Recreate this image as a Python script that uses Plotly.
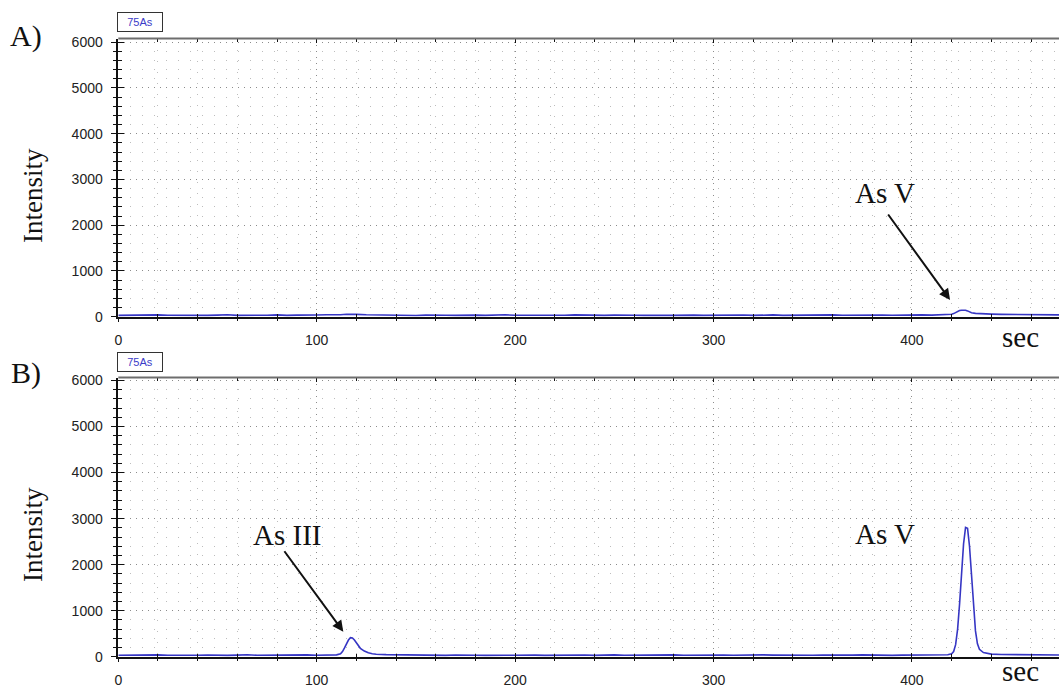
import plotly.graph_objects as go

# ---------------- data ----------------
# Panel A (sample) : retention time (sec) and intensity
time_a = [0, 5, 10, 15, 20, 25, 30, 35, 40, 45, 50, 55, 60, 65, 70, 75, 80, 85, 90, 95, 100, 105, 110,
          112, 115, 117,
          120, 125, 130, 135, 140, 145, 150, 155, 160, 165, 170, 175, 180, 185, 190, 195, 200, 205, 210, 215,
          220, 225, 230, 235, 240, 245, 250, 255, 260, 265, 270, 275, 280, 285, 290, 295, 300, 305, 310, 315,
          320, 325, 330, 335, 340, 345, 350, 355, 360, 365, 370, 375, 380, 385, 390, 395, 400, 405, 410, 415,
          418, 420, 421, 422, 423, 424, 425, 426, 427, 428, 429, 430, 432, 435,
          440, 445, 450, 455, 460, 465, 470, 475]
intensity_a = [30, 36, 28, 34, 40, 31, 27, 38, 33, 29, 35, 41, 30, 26, 37, 32, 39, 28, 34, 30, 36, 42, 38,
               44, 52, 56,
               50, 42, 36, 30, 38, 33, 27, 35, 40, 31, 29, 37, 34, 28, 36, 41, 32, 30, 38, 35,
               27, 33, 39, 31, 36, 29, 34, 40, 32, 28, 37, 33, 30, 38, 35, 29, 34, 41, 31, 36,
               28, 35, 39, 30, 33, 37, 29, 34, 40, 32, 36, 28, 35, 38, 31, 36, 33, 39, 34, 37,
               42, 52, 68, 92, 118, 134, 142, 146, 141, 127, 108, 88, 72, 62,
               56, 50, 46, 42, 38, 41, 36, 39]

# Panel B (spiked sample)
time_b = [0, 5, 10, 15, 20, 25, 30, 35, 40, 45, 50, 55, 60, 65, 70, 75, 80, 85, 90, 95, 100, 105,
          108, 110, 112, 113, 114, 115, 116, 117, 118, 119, 120, 121, 122, 124, 126, 128, 130,
          135, 140, 145, 150, 155, 160, 165, 170, 175, 180, 185, 190, 195, 200, 205, 210, 215, 220, 225,
          230, 235, 240, 245, 250, 255, 260, 265, 270, 275, 280, 285, 290, 295, 300, 305, 310, 315, 320,
          325, 330, 335, 340, 345, 350, 355, 360, 365, 370, 375, 380, 385, 390, 395, 400, 405, 410, 415,
          418, 420, 421, 422, 423, 424, 425, 426, 427, 428, 429, 430, 431, 432, 433, 434, 436, 438,
          440, 445, 450, 455, 460, 465, 470, 475]
intensity_b = [32, 37, 29, 35, 40, 30, 27, 36, 33, 38, 31, 28, 35, 41, 30, 34, 37, 29, 33, 39, 31, 35,
               36, 40, 62, 112, 190, 282, 362, 414, 408, 362, 292, 232, 182, 122, 84, 64, 54,
               46, 42, 36, 31, 38, 34, 29, 36, 40, 32, 28, 37, 33, 30, 38, 35, 29, 34, 40,
               31, 36, 28, 35, 39, 30, 33, 37, 29, 34, 40, 32, 36, 28, 35, 38, 31, 36, 33,
               39, 34, 29, 37, 32, 30, 38, 35, 29, 34, 40, 31, 36, 28, 35, 39, 32, 36, 38,
               42, 62, 112, 262, 600, 1150, 1850, 2450, 2810, 2790, 2400, 1760, 1060, 560, 280, 160, 90, 66,
               56, 48, 44, 40, 36, 39, 34, 37]

# ---------------- layout constants ----------------
W, H = 1059, 689
X_RANGE = [0, 474.1]
X_DOM = [118.3 / W, 1.0]
A_DOM = [1 - 316.7 / H, 1 - 38.5 / H]
B_DOM = [1 - 656.7 / H, 1 - 377.5 / H]
A_YRANGE = [0, 6081]
B_YRANGE = [0, 6065]

LINE_COLOR = "#3636c4"
TICK_FONT = dict(family="Liberation Sans, Arial, sans-serif", size=14, color="#222222")
SERIF = "Liberation Serif, Times New Roman, serif"

fig = go.Figure()
fig.add_trace(go.Scatter(x=time_a, y=intensity_a, mode="lines", xaxis="x", yaxis="y",
                         line=dict(color=LINE_COLOR, width=1.6), showlegend=False))
fig.add_trace(go.Scatter(x=time_b, y=intensity_b, mode="lines", xaxis="x2", yaxis="y2",
                         line=dict(color=LINE_COLOR, width=1.6), showlegend=False))
# empty traces to register overlay axes
fig.add_trace(go.Scatter(x=[None], y=[None], xaxis="x3", yaxis="y3", showlegend=False, hoverinfo="skip"))
fig.add_trace(go.Scatter(x=[None], y=[None], xaxis="x4", yaxis="y4", showlegend=False, hoverinfo="skip"))


def main_x(anchor, show_labels=True):
    return dict(domain=X_DOM, anchor=anchor, range=X_RANGE, dtick=100, tick0=0, automargin=False,
                showline=True, linecolor="#111111", linewidth=1.5,
                ticks="outside", ticklen=4, tickwidth=1.3, tickcolor="#111111",
                showticklabels=show_labels, tickfont=TICK_FONT, ticklabelstandoff=6,
                showgrid=True, gridcolor="#8c8c8c", gridwidth=1, griddash="1px,5px",
                zeroline=False,
                minor=dict(dtick=20, tick0=0, ticks="outside", ticklen=3, tickwidth=1.1, tickcolor="#111111",
                           showgrid=True, gridcolor="#bdbdbd", gridwidth=1, griddash="1px,10px"))


def main_y(anchor, dom, rng):
    return dict(domain=dom, anchor=anchor, range=rng, dtick=1000, tick0=0, automargin=False,
                showline=True, linecolor="#111111", linewidth=1.5,
                ticks="outside", ticklen=6, tickwidth=1.3, tickcolor="#111111",
                tickfont=TICK_FONT, ticklabelstandoff=5,
                showgrid=True, gridcolor="#8c8c8c", gridwidth=1, griddash="1px,5px",
                zeroline=False,
                minor=dict(dtick=200, tick0=0, ticks="outside", ticklen=4, tickwidth=1.1, tickcolor="#111111",
                           showgrid=True, gridcolor="#bdbdbd", gridwidth=1, griddash="1px,11px"))


def over_x(overlay, anchor):
    return dict(overlaying=overlay, anchor=anchor, domain=X_DOM, range=X_RANGE, dtick=100, tick0=0,
                automargin=False,
                showline=False, mirror="ticks", ticks="inside", ticklen=4, tickwidth=1.3, tickcolor="#111111",
                showticklabels=False, showgrid=False, zeroline=False,
                minor=dict(dtick=20, tick0=0, ticks="inside", ticklen=3, tickwidth=1.1, tickcolor="#111111",
                           showgrid=False))


def over_y(overlay, anchor, dom, rng):
    return dict(overlaying=overlay, anchor=anchor, domain=dom, range=rng, dtick=1000, tick0=0,
                automargin=False,
                showline=False, ticks="inside", ticklen=6, tickwidth=1.3, tickcolor="#111111",
                showticklabels=False, showgrid=False, zeroline=False,
                minor=dict(dtick=200, tick0=0, ticks="inside", ticklen=4, tickwidth=1.1, tickcolor="#111111",
                           showgrid=False))


def px_x(px):
    return px / W


def px_y(py):
    return 1 - py / H


annotations = []
# "75As" boxes
for top in (12, 352):
    annotations.append(dict(xref="paper", yref="paper", x=px_x(117), y=px_y(top), xanchor="left", yanchor="top",
                            text="75As", showarrow=False, width=42, height=16, borderpad=1, borderwidth=1,
                            bordercolor="#333333", bgcolor="white",
                            font=dict(family="Liberation Sans, Arial, sans-serif", size=11, color="#3b3bc8")))
# panel letters
for txt, cy in (("A)", 36), ("B)", 373)):
    annotations.append(dict(xref="paper", yref="paper", x=px_x(26), y=px_y(cy), xanchor="center", yanchor="middle",
                            text=txt, showarrow=False, font=dict(family=SERIF, size=30, color="#111111")))
# Intensity labels
for cy in (196, 535):
    annotations.append(dict(xref="paper", yref="paper", x=px_x(33), y=px_y(cy), xanchor="center", yanchor="middle",
                            text="Intensity", textangle=-90, showarrow=False,
                            font=dict(family=SERIF, size=27, color="#111111")))
# sec labels
annotations.append(dict(xref="paper", yref="paper", x=px_x(1020), y=px_y(337), xanchor="center", yanchor="middle",
                        text="sec", showarrow=False, font=dict(family=SERIF, size=29, color="#111111")))
annotations.append(dict(xref="paper", yref="paper", x=px_x(1020), y=0, xanchor="center", yanchor="bottom",
                        text="sec", showarrow=False, font=dict(family=SERIF, size=29, color="#111111")))
# peak labels
for txt, cx, cy in (("As V", 885, 193), ("As V", 885, 534), ("As III", 287, 535)):
    annotations.append(dict(xref="paper", yref="paper", x=px_x(cx), y=px_y(cy), xanchor="center", yanchor="middle",
                            text=txt, showarrow=False, font=dict(family=SERIF, size=29, color="#111111")))
# arrows
annotations.append(dict(xref="x", yref="y", x=419.2, y=365, ax=-63, ay=-87, text="", showarrow=True,
                        arrowhead=2, arrowsize=1.1, arrowwidth=2, arrowcolor="#111111", standoff=0))
annotations.append(dict(xref="x2", yref="y2", x=113.4, y=542, ax=-60, ay=-82, text="", showarrow=True,
                        arrowhead=2, arrowsize=1.1, arrowwidth=2, arrowcolor="#111111", standoff=0))

shapes = []
for yref in ("y domain", "y2 domain"):
    xr = "x domain" if yref == "y domain" else "x2 domain"
    shapes.append(dict(type="line", xref=xr, yref=yref, x0=0, x1=1, y0=1, y1=1,
                       line=dict(color="#6e6e6e", width=2), layer="above"))

fig.update_layout(
    width=W, height=H,
    margin=dict(l=0, r=0, t=0, b=0, autoexpand=False),
    paper_bgcolor="white", plot_bgcolor="white",
    showlegend=False,
    xaxis=main_x("y"),
    xaxis2=main_x("y2"),
    yaxis=main_y("x", A_DOM, A_YRANGE),
    yaxis2=main_y("x2", B_DOM, B_YRANGE),
    xaxis3=over_x("x", "y3"),
    yaxis3=over_y("y", "x3", A_DOM, A_YRANGE),
    xaxis4=over_x("x2", "y4"),
    yaxis4=over_y("y2", "x4", B_DOM, B_YRANGE),
    annotations=annotations,
    shapes=shapes,
)

fig.write_html("out.html")
